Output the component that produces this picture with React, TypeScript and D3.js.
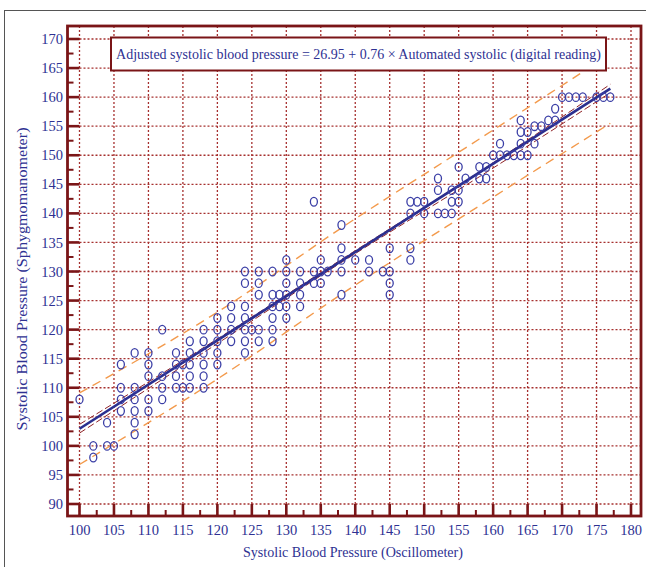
import { useRef, useEffect } from 'react';
import * as d3 from 'd3';

// [oscillometer, sphygmomanometer] readings
const readings: [number, number][] = [
    [100, 108],
    [102, 100], [102, 98],
    [104, 104], [104, 100], [105, 100],
    [106, 114], [106, 110], [106, 108], [106, 106],
    [108, 116], [108, 110], [108, 108], [108, 106], [108, 104], [108, 102],
    [110, 116], [110, 114], [110, 112], [110, 108], [110, 106],
    [112, 120], [112, 112], [112, 110], [112, 108],
    [114, 116], [114, 114], [114, 112], [114, 110],
    [115, 114], [115, 110],
    [116, 118], [116, 116], [116, 114], [116, 112], [116, 110],
    [118, 120], [118, 118], [118, 116], [118, 114], [118, 112], [118, 110],
    [120, 122], [120, 120], [120, 118], [120, 116], [120, 114],
    [122, 124], [122, 122], [122, 120], [122, 118],
    [124, 130], [124, 128], [124, 124], [124, 122], [124, 120], [124, 118], [124, 116],
    [125, 120],
    [126, 130], [126, 128], [126, 126], [126, 120], [126, 118],
    [128, 130], [128, 126], [128, 124], [128, 122], [128, 120], [128, 118],
    [129, 126], [129, 124],
    [130, 132], [130, 130], [130, 128], [130, 126], [130, 124], [130, 122],
    [132, 130], [132, 128], [132, 126], [132, 124],
    [134, 142], [134, 130], [134, 128],
    [135, 132], [135, 130], [135, 128],
    [136, 130],
    [138, 138], [138, 134], [138, 132], [138, 130], [138, 126],
    [140, 132],
    [142, 132], [142, 130],
    [144, 130],
    [145, 134], [145, 130], [145, 128], [145, 126],
    [148, 142], [148, 140], [148, 134], [148, 132],
    [149, 142],
    [150, 142], [150, 140],
    [152, 146], [152, 144], [152, 140],
    [153, 140],
    [154, 144], [154, 142], [154, 140],
    [155, 148], [155, 144], [155, 142],
    [156, 146],
    [158, 148], [158, 146],
    [159, 148], [159, 146],
    [160, 150],
    [161, 152], [161, 150],
    [162, 150],
    [163, 150],
    [164, 156], [164, 154], [164, 152], [164, 150],
    [165, 154], [165, 150],
    [166, 155], [166, 152],
    [167, 155],
    [168, 156],
    [169, 158], [169, 156],
    [170, 160], [171, 160], [172, 160], [173, 160],
    [175, 160], [176, 160], [177, 160],
];

const regressionLine: [number, number][] = [[100, 102.95], [177, 161.47]];
const predictionUpper: [number, number][] = [[100, 109.1], [120, 123.0], [138.5, 137.9], [158, 152.8], [177, 167.4]];
const predictionLower: [number, number][] = [[100, 96.8], [120, 111.5], [138.5, 126.5], [158, 141.3], [177, 155.5]];
const confidenceUpper: [number, number][] = [[100, 103.7], [120, 118.4], [138.5, 132.45], [158, 147.15], [177, 162.2]];
const confidenceLower: [number, number][] = [[100, 102.2], [120, 117.6], [138.5, 131.95], [158, 146.3], [177, 160.75]];

const xTickValues = [100, 105, 110, 115, 120, 125, 130, 135, 140, 145, 150, 155, 160, 165, 170, 175, 180];
const yTickValues = [90, 95, 100, 105, 110, 115, 120, 125, 130, 135, 140, 145, 150, 155, 160, 165, 170];

const equationText = 'Adjusted systolic blood pressure = 26.95 + 0.76 × Automated systolic (digital reading)';
const xTitle = 'Systolic Blood Pressure (Oscillometer)';
const yTitle = 'Systolic Blood Pressure (Sphygmomanometer)';

const FONT = "'Liberation Serif', 'Times New Roman', serif";
const FRAME = '#7a1517';
const GRID = '#a6302f';
const BLUE_TEXT = '#2e3192';

export default function App() {
    const svgRef = useRef<SVGSVGElement>(null);

    useEffect(() => {
        if (!svgRef.current) return;

        const width = 646;
        const height = 567;
        const frame = { left: 67.5, top: 26, right: 641, bottom: 516 };

        const svg = d3.select(svgRef.current)
            .attr('width', width)
            .attr('height', height);

        svg.selectAll('*').remove();

        const x = d3.scaleLinear().domain([100, 180]).range([79.5, 631]);
        const y = d3.scaleLinear().domain([90, 170]).range([504, 39]);

        // Outer border
        svg.append('rect')
            .attr('x', 4.5)
            .attr('y', 10.5)
            .attr('width', 660)
            .attr('height', 600)
            .attr('fill', 'none')
            .attr('stroke', '#555')
            .attr('stroke-width', 1);

        // Grid lines
        const grid = svg.append('g');
        grid.selectAll('line.vg')
            .data(xTickValues)
            .enter()
            .append('line')
            .attr('x1', d => x(d))
            .attr('x2', d => x(d))
            .attr('y1', frame.top)
            .attr('y2', frame.bottom)
            .attr('stroke', GRID)
            .attr('stroke-width', 1.3)
            .attr('stroke-dasharray', '2,2');
        grid.selectAll('line.hg')
            .data(yTickValues)
            .enter()
            .append('line')
            .attr('x1', frame.left)
            .attr('x2', frame.right)
            .attr('y1', d => y(d))
            .attr('y2', d => y(d))
            .attr('stroke', GRID)
            .attr('stroke-width', 1.3)
            .attr('stroke-dasharray', '2,2');

        const line = d3.line<[number, number]>()
            .x(d => x(d[0]))
            .y(d => y(d[1]))
            .curve(d3.curveMonotoneX);

        // Prediction interval
        [predictionUpper, predictionLower].forEach(band => {
            svg.append('path')
                .datum(band)
                .attr('fill', 'none')
                .attr('stroke', '#f39a4c')
                .attr('stroke-width', 1.4)
                .attr('stroke-dasharray', '9,6')
                .attr('d', line);
        });

        // Confidence interval
        [confidenceUpper, confidenceLower].forEach(band => {
            svg.append('path')
                .datum(band)
                .attr('fill', 'none')
                .attr('stroke', '#8e2226')
                .attr('stroke-width', 1)
                .attr('stroke-dasharray', '7,3')
                .attr('d', line);
        });

        // Regression line
        svg.append('path')
            .datum(regressionLine)
            .attr('fill', 'none')
            .attr('stroke', '#2b2f8f')
            .attr('stroke-width', 2.6)
            .attr('d', line);

        // Points
        svg.append('g')
            .selectAll('ellipse')
            .data(readings)
            .enter()
            .append('ellipse')
            .attr('cx', d => x(d[0]))
            .attr('cy', d => y(d[1]))
            .attr('rx', 3.5)
            .attr('ry', 4.3)
            .attr('fill', 'none')
            .attr('stroke', '#3b3fa6')
            .attr('stroke-width', 1.3);

        // Frame
        svg.append('rect')
            .attr('x', frame.left)
            .attr('y', frame.top)
            .attr('width', frame.right - frame.left)
            .attr('height', frame.bottom - frame.top)
            .attr('fill', 'none')
            .attr('stroke', FRAME)
            .attr('stroke-width', 2.8);

        // Ticks
        const minorX = d3.range(102.5, 180, 5);
        const minorY = d3.range(92.5, 170, 5);
        const ticks = svg.append('g').attr('stroke', FRAME);
        ticks.selectAll('line.xmaj')
            .data(xTickValues)
            .enter()
            .append('line')
            .attr('x1', d => x(d))
            .attr('x2', d => x(d))
            .attr('y1', frame.bottom)
            .attr('y2', frame.bottom - 12)
            .attr('stroke-width', 2.6);
        ticks.selectAll('line.xmin')
            .data(minorX)
            .enter()
            .append('line')
            .attr('x1', d => x(d))
            .attr('x2', d => x(d))
            .attr('y1', frame.bottom)
            .attr('y2', frame.bottom - 6)
            .attr('stroke-width', 2);
        ticks.selectAll('line.ymaj')
            .data(yTickValues)
            .enter()
            .append('line')
            .attr('x1', frame.left)
            .attr('x2', frame.left + 12)
            .attr('y1', d => y(d))
            .attr('y2', d => y(d))
            .attr('stroke-width', 2.6);
        ticks.selectAll('line.ymin')
            .data(minorY)
            .enter()
            .append('line')
            .attr('x1', frame.left)
            .attr('x2', frame.left + 6)
            .attr('y1', d => y(d))
            .attr('y2', d => y(d))
            .attr('stroke-width', 2);

        // Tick labels
        svg.append('g')
            .selectAll('text')
            .data(xTickValues)
            .enter()
            .append('text')
            .attr('x', d => x(d))
            .attr('y', 535)
            .attr('text-anchor', 'middle')
            .attr('font-family', FONT)
            .attr('font-size', '14.5px')
            .attr('fill', BLUE_TEXT)
            .text(d => String(d));
        svg.append('g')
            .selectAll('text')
            .data(yTickValues)
            .enter()
            .append('text')
            .attr('x', 63)
            .attr('y', d => y(d))
            .attr('dy', '0.35em')
            .attr('text-anchor', 'end')
            .attr('font-family', FONT)
            .attr('font-size', '14.5px')
            .attr('fill', BLUE_TEXT)
            .text(d => String(d));

        // Axis titles
        svg.append('text')
            .attr('x', 353)
            .attr('y', 557)
            .attr('text-anchor', 'middle')
            .attr('font-family', FONT)
            .attr('font-size', '15px')
            .attr('fill', BLUE_TEXT)
            .attr('textLength', 220)
            .attr('lengthAdjust', 'spacingAndGlyphs')
            .text(xTitle);
        svg.append('text')
            .attr('transform', `translate(27,279) rotate(-90)`)
            .attr('text-anchor', 'middle')
            .attr('font-family', FONT)
            .attr('font-size', '15px')
            .attr('fill', BLUE_TEXT)
            .attr('textLength', 303)
            .attr('lengthAdjust', 'spacingAndGlyphs')
            .text(yTitle);

        // Equation box
        svg.append('rect')
            .attr('x', 111)
            .attr('y', 37.5)
            .attr('width', 495)
            .attr('height', 33)
            .attr('fill', '#fff')
            .attr('stroke', FRAME)
            .attr('stroke-width', 2);
        svg.append('text')
            .attr('x', 358.5)
            .attr('y', 59)
            .attr('text-anchor', 'middle')
            .attr('font-family', FONT)
            .attr('font-size', '14px')
            .attr('fill', BLUE_TEXT)
            .text(equationText);
    }, []);

    return (
        <svg ref={svgRef} style={{ position: 'absolute', left: 0, top: 0, background: '#fff' }} />
    );
}
